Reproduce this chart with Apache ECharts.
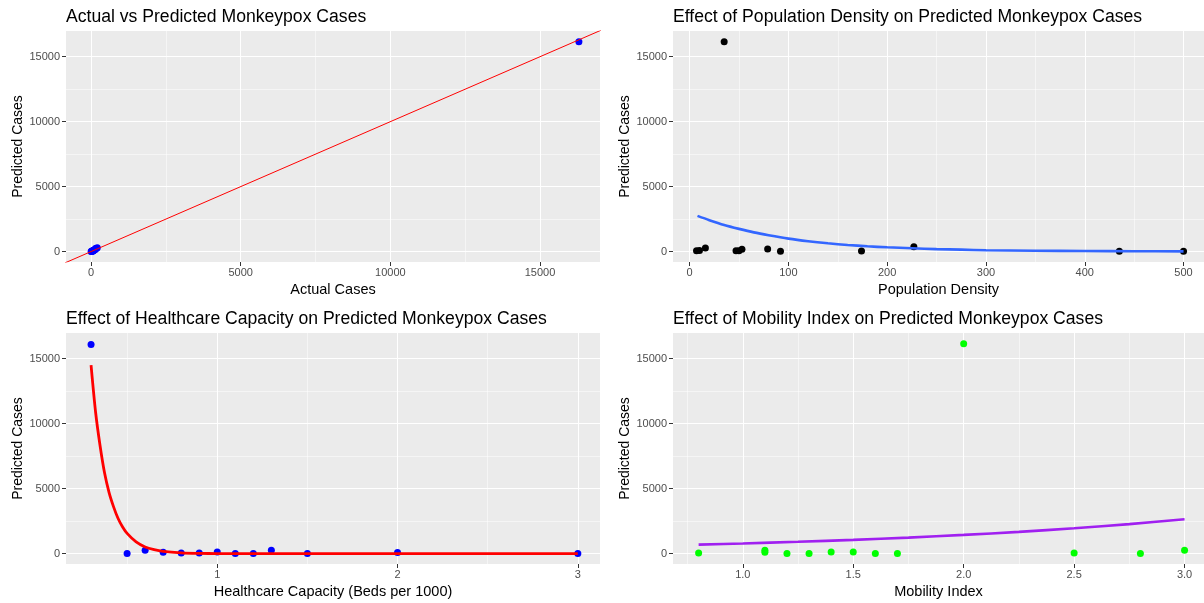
<!DOCTYPE html>
<html>
<head>
<meta charset="utf-8">
<script src="https://cdn.jsdelivr.net/npm/echarts@6/dist/echarts.min.js"></script>
<style>html,body{margin:0;padding:0;background:#fff}#c{width:1204px;height:603px}</style>
</head>
<body>
<div id="c"></div>
<script>
// ---- data ----
const actualCases    = [16300, 5, 20, 30, 45, 60, 70, 90, 110, 130, 150, 180, 210];
const predictedCases = [16150, 0, 30, 0, 50, 80, 50, 100, 120, 150, 230, 230, 300];
const identityLineX  = [-2000, 20000];

const popDensity = [7, 10, 16, 35, 47, 50, 53, 79, 92, 174, 227, 435, 500];
const predPop    = [70, 80, 280, 16150, 70, 70, 190, 200, 30, 40, 380, 30, 30];
const popCurveX  = [8, 20, 35, 50, 65, 80, 100, 120, 140, 160, 180, 200, 225, 250, 275, 300, 350, 400, 450, 500];
const popCurveY  = [2750, 2420, 2050, 1750, 1480, 1260, 1000, 800, 640, 510, 410, 330, 260, 190, 150, 110, 70, 50, 30, 20];

const bedsPer1000 = [0.3, 0.5, 0.6, 0.7, 0.8, 0.9, 1.0, 1.1, 1.2, 1.3, 1.5, 2.0, 3.0];
const predBeds    = [16100, 0, 250, 100, 50, 50, 120, 0, 0, 250, 0, 80, 0];
const bedsCurveX  = [0.3, 0.325, 0.35, 0.375, 0.4, 0.425, 0.45, 0.475, 0.5, 0.55, 0.6, 0.65, 0.7, 0.8, 0.9, 1.0, 1.5, 2.0, 2.5, 3.0];
const bedsCurveY  = [14500, 10900, 8300, 6200, 4700, 3600, 2700, 2050, 1560, 900, 510, 300, 170, 60, 20, 5, 0, 0, 0, 0];

const mobilityIndex = [0.8, 1.1, 1.1, 1.2, 1.3, 1.4, 1.5, 1.6, 1.7, 2.0, 2.5, 2.8, 3.0];
const predMob       = [50, 250, 100, 0, 0, 120, 120, 0, 0, 16150, 50, 0, 250];
const mobCurveX     = [0.8, 1.0, 1.25, 1.5, 1.75, 2.0, 2.25, 2.5, 2.75, 3.0];
const mobCurveY     = [690, 780, 910, 1060, 1230, 1440, 1670, 1950, 2270, 2650];

const yTicks   = [0, 5000, 10000, 15000];
const p1XTicks = [0, 5000, 10000, 15000];
const p2XTicks = [0, 100, 200, 300, 400, 500];
const p3XTicks = [1, 2, 3];
const p4XTicks = [1.0, 1.5, 2.0, 2.5, 3.0];

const titles = [
  'Actual vs Predicted Monkeypox Cases',
  'Effect of Population Density on Predicted Monkeypox Cases',
  'Effect of Healthcare Capacity on Predicted Monkeypox Cases',
  'Effect of Mobility Index on Predicted Monkeypox Cases'
];
const xNames = ['Actual Cases', 'Population Density', 'Healthcare Capacity (Beds per 1000)', 'Mobility Index'];
const yName = 'Predicted Cases';

// ---- chart ----
const FONT = 'Liberation Sans, Arial, sans-serif';
const zip = (a, b) => a.map((v, i) => [v, b[i]]);

function xAx(gi, min, max, iv, ticks, name, fmt) {
  return {
    type: 'value', gridIndex: gi, min: min, max: max, minInterval: iv, maxInterval: iv, splitNumber: 4,
    axisLine: { show: false, onZero: false },
    axisTick: { show: true, length: 4, lineStyle: { color: '#333333', width: 1 }, customValues: ticks },
    axisLabel: { color: '#4D4D4D', fontSize: 11, fontFamily: FONT, margin: 5, customValues: ticks, formatter: fmt },
    splitLine: { show: true, lineStyle: { color: '#FFFFFF', width: 1.1 } },
    minorTick: { show: false, splitNumber: 2 },
    minorSplitLine: { show: true, lineStyle: { color: '#FFFFFF', width: 0.5 } },
    name: name, nameLocation: 'middle', nameGap: 20,
    nameTextStyle: { color: '#000', fontSize: 14.5, fontFamily: FONT }
  };
}
function yAx(gi) {
  return {
    type: 'value', gridIndex: gi, min: -800, max: 16980, minInterval: 5000, maxInterval: 5000, splitNumber: 3,
    axisLine: { show: false, onZero: false },
    axisTick: { show: true, length: 4, lineStyle: { color: '#333333', width: 1 }, customValues: yTicks },
    axisLabel: { color: '#4D4D4D', fontSize: 11, fontFamily: FONT, margin: 6, customValues: yTicks, formatter: v => String(v) },
    splitLine: { show: true, lineStyle: { color: '#FFFFFF', width: 1.1 } },
    minorTick: { show: false, splitNumber: 2 },
    minorSplitLine: { show: true, lineStyle: { color: '#FFFFFF', width: 0.5 } },
    name: yName, nameLocation: 'middle', nameGap: 41, nameRotate: 90,
    nameTextStyle: { color: '#000', fontSize: 14, fontFamily: FONT }
  };
}
const gridBase = { show: true, backgroundColor: '#EBEBEB', borderWidth: 0, containLabel: false };

const option = {
  animation: false,
  backgroundColor: '#FFFFFF',
  title: [
    { text: titles[0], left: 66, top: 8 },
    { text: titles[1], left: 673, top: 8 },
    { text: titles[2], left: 66, top: 310 },
    { text: titles[3], left: 673, top: 310 }
  ].map(t => Object.assign(t, { padding: 0, textStyle: { color: '#000', fontSize: 17.6, fontWeight: 'normal', fontFamily: FONT } })),
  grid: [
    Object.assign({ left: 66, top: 31, width: 534, height: 231 }, gridBase),
    Object.assign({ left: 673, top: 31, width: 531, height: 231 }, gridBase),
    Object.assign({ left: 66, top: 333, width: 534, height: 231 }, gridBase),
    Object.assign({ left: 673, top: 333, width: 531, height: 231 }, gridBase)
  ],
  xAxis: [
    xAx(0, -835, 17005, 5000, p1XTicks, xNames[0], v => String(v)),
    xAx(1, -16.8, 520.7, 100, p2XTicks, xNames[1], v => String(v)),
    xAx(2, 0.161, 3.123, 1, p3XTicks, xNames[2], v => String(v)),
    xAx(3, 0.684, 3.088, 0.5, p4XTicks, xNames[3], v => Number(v).toFixed(1))
  ],
  yAxis: [yAx(0), yAx(1), yAx(2), yAx(3)],
  series: [
    { type: 'scatter', xAxisIndex: 0, yAxisIndex: 0, data: zip(actualCases, predictedCases), symbolSize: 7, itemStyle: { color: '#0000FF', opacity: 1 } },
    { type: 'line', xAxisIndex: 0, yAxisIndex: 0, data: zip(identityLineX, identityLineX), showSymbol: false, clip: true, lineStyle: { color: '#FF0000', width: 1 } },

    { type: 'scatter', xAxisIndex: 1, yAxisIndex: 1, data: zip(popDensity, predPop), symbolSize: 7, itemStyle: { color: '#000000', opacity: 1 } },
    { type: 'line', xAxisIndex: 1, yAxisIndex: 1, data: zip(popCurveX, popCurveY), showSymbol: false, smooth: 0.3, lineStyle: { color: '#3366FF', width: 2.6 } },

    { type: 'scatter', xAxisIndex: 2, yAxisIndex: 2, data: zip(bedsPer1000, predBeds), symbolSize: 7, itemStyle: { color: '#0000FF', opacity: 1 } },
    { type: 'line', xAxisIndex: 2, yAxisIndex: 2, data: zip(bedsCurveX, bedsCurveY), showSymbol: false, smooth: 0.3, lineStyle: { color: '#FF0000', width: 2.8 } },

    { type: 'scatter', xAxisIndex: 3, yAxisIndex: 3, data: zip(mobilityIndex, predMob), symbolSize: 7, itemStyle: { color: '#00FF00', opacity: 1 } },
    { type: 'line', xAxisIndex: 3, yAxisIndex: 3, data: zip(mobCurveX, mobCurveY), showSymbol: false, smooth: 0.3, lineStyle: { color: '#A020F0', width: 2.6 } }
  ]
};
const chart = echarts.init(document.getElementById('c'), null, { renderer: 'canvas' });
chart.setOption(option);
</script>
</body>
</html>
